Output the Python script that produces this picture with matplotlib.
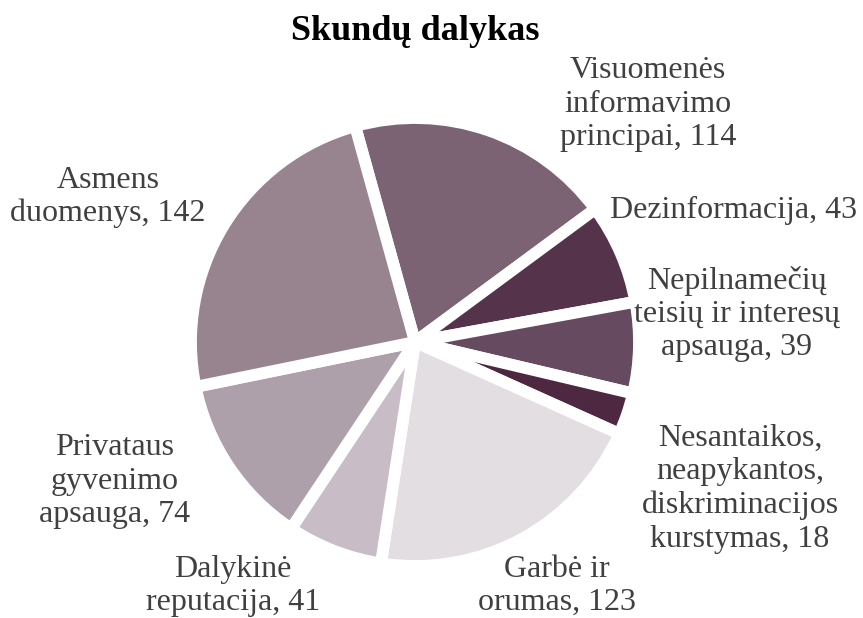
import matplotlib
matplotlib.use("Agg")
import matplotlib.pyplot as plt

categories = [
    "Visuomenės\ninformavimo\nprincipai",
    "Dezinformacija",
    "Nepilnamečių\nteisių ir interesų\napsauga",
    "Nesantaikos,\nneapykantos,\ndiskriminacijos\nkurstymas",
    "Garbė ir\norumas",
    "Dalykinė\nreputacija",
    "Privataus\ngyvenimo\napsauga",
    "Asmens\nduomenys",
]
values = [114, 43, 39, 18, 123, 41, 74, 142]
colors = ["#7b6374", "#55334b", "#664a5f", "#4e2841",
          "#e3dee2", "#c8bdc6", "#ada0aa", "#98848f"]

# label centre positions in pixel coordinates (x, y from top)
label_pos = [(648, 104), (734, 210), (737, 314), (740, 489),
             (557, 586), (233, 586), (115, 481), (108, 197)]

W, H = 863, 618
fig = plt.figure(figsize=(W / 100, H / 100), dpi=100)
ax = fig.add_axes([0, 0, 1, 1])

cx, cy, r = 415, H - 342, 224
ax.pie(values, colors=colors, startangle=105.5, counterclock=False,
       center=(cx, cy), radius=r, frame=True,
       wedgeprops=dict(edgecolor="white", linewidth=8.5, joinstyle="round"))
ax.set_xlim(0, W)
ax.set_ylim(0, H)
ax.set_aspect("equal")
ax.axis("off")

for cat, val, (x, y) in zip(categories, values, label_pos):
    ax.text(x, H - y, f"{cat}, {val}", ha="center", va="center",
            fontsize=23, family="Liberation Serif", color="#404040",
            linespacing=1.2)

fig.text(415 / W, 1 - 31 / H, "Skundų dalykas", ha="center", va="center",
         fontsize=26, fontweight="bold", family="Liberation Serif",
         color="black")

fig.savefig("out.png", dpi=100, facecolor="white")
